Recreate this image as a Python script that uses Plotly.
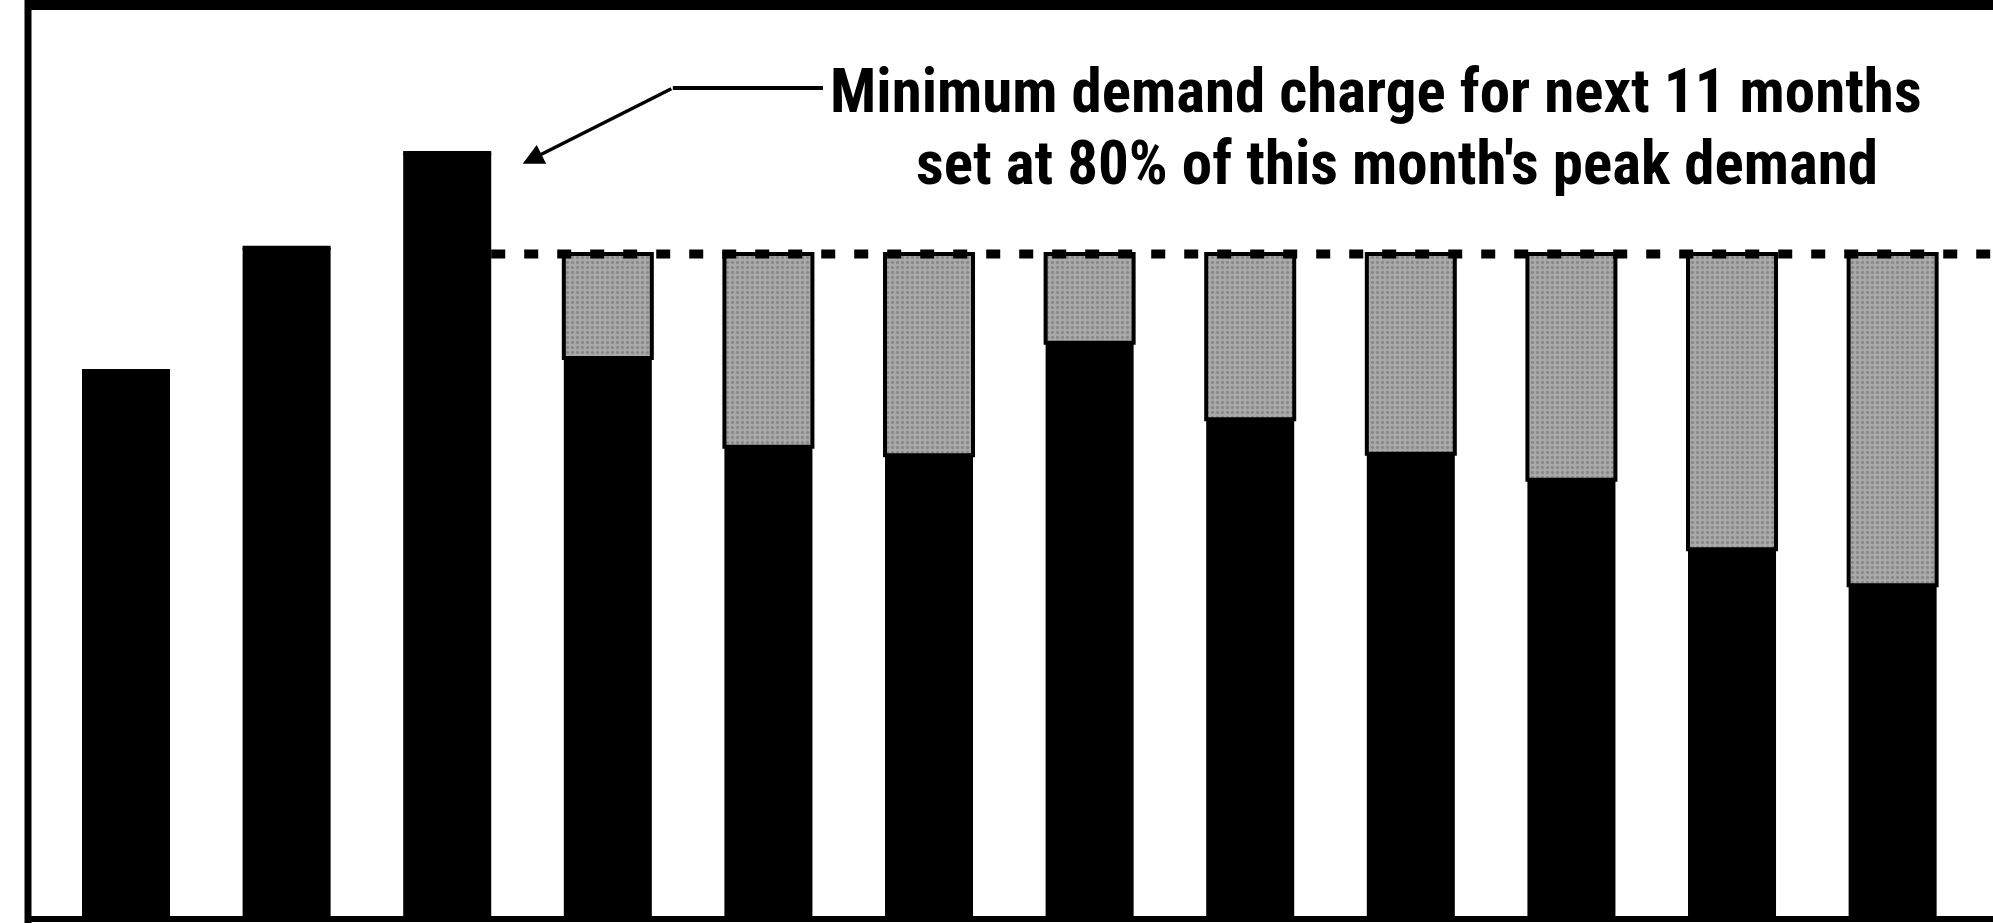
import plotly.graph_objects as go

# ---- data (arbitrary demand units, peak month = 100) ----
months = list(range(1, 13))
peak_demand = [71.5, 87.6, 100.0, 73.2, 61.6, 60.5, 75.2, 65.2, 60.7, 57.3, 48.2, 43.5]
minimum_billed = 86.8          # level of the dashed "ratchet" line
peak_month = 3
note_line1 = "Minimum demand charge for next 11 months"
note_line2 = "set at 80% of this month's peak demand"

shortfall = [round(minimum_billed - d, 2) if m > peak_month and d < minimum_billed else 0
             for m, d in zip(months, peak_demand)]

W, H = 1993, 923
bar_w = 0.548
x_range = [0.2154, 12.625]
y_range = [-0.65, 120.0]

fig = go.Figure()
fig.add_trace(go.Bar(x=months, y=peak_demand, width=bar_w,
                     marker=dict(color="black", line=dict(width=0)),
                     showlegend=False, hoverinfo="skip"))
fig.add_trace(go.Bar(x=months, y=shortfall, base=peak_demand, width=bar_w,
                     marker=dict(color="#a0a0a0",
                                 line=dict(color="black", width=4),
                                 pattern=dict(shape=".", fgcolor="#6a6a6a", bgcolor="#aaaaaa",
                                              size=5, solidity=0.35)),
                     showlegend=False, hoverinfo="skip"))

# dashed minimum-demand line, from the right side of the peak bar to the right edge
fig.add_shape(type="line", xref="x", yref="y",
              x0=peak_month + bar_w / 2, x1=x_range[1], y0=minimum_billed, y1=minimum_billed,
              line=dict(color="black", width=9, dash="14px,19px"), layer="above")

# frame
fig.add_shape(type="line", xref="paper", yref="paper", x0=28/W, x1=28/W, y0=0, y1=1,
              line=dict(color="black", width=7))
fig.add_shape(type="line", xref="paper", yref="paper", x0=25/W, x1=1, y0=1-5/H, y1=1-5/H,
              line=dict(color="black", width=10))
fig.add_shape(type="line", xref="paper", yref="paper", x0=25/W, x1=1, y0=4/H, y1=4/H,
              line=dict(color="black", width=6))

# leader: horizontal stub then arrow to the peak bar
fig.add_shape(type="line", xref="x", yref="y", x0=4.405, x1=5.34, y0=108.5, y1=108.5,
              line=dict(color="black", width=4))
fig.add_annotation(x=3.47, y=98.6, ax=4.405, ay=108.5, xref="x", yref="y",
                   axref="x", ayref="y", text="", showarrow=True,
                   arrowhead=2, arrowsize=1.2, arrowwidth=3.5, arrowcolor="black")

font = dict(family="Roboto Condensed, DejaVu Sans Condensed, sans-serif",
            size=61, color="black", weight="bold")
fig.add_annotation(x=1376/W, y=1-91/H, xref="paper", yref="paper", text=note_line1,
                   showarrow=False, xanchor="center", yanchor="middle", font=font)
fig.add_annotation(x=1397/W, y=1-163/H, xref="paper", yref="paper", text=note_line2,
                   showarrow=False, xanchor="center", yanchor="middle", font=font)

fig.update_layout(width=W, height=H, margin=dict(l=0, r=0, t=0, b=0),
                  paper_bgcolor="white", plot_bgcolor="white", barmode="overlay",
                  xaxis=dict(range=x_range, visible=False, fixedrange=True),
                  yaxis=dict(range=y_range, visible=False, fixedrange=True))

fig.write_html("out.html", config={"displayModeBar": False},
               post_script="document.body.style.margin='0';document.body.style.overflow='hidden';")
